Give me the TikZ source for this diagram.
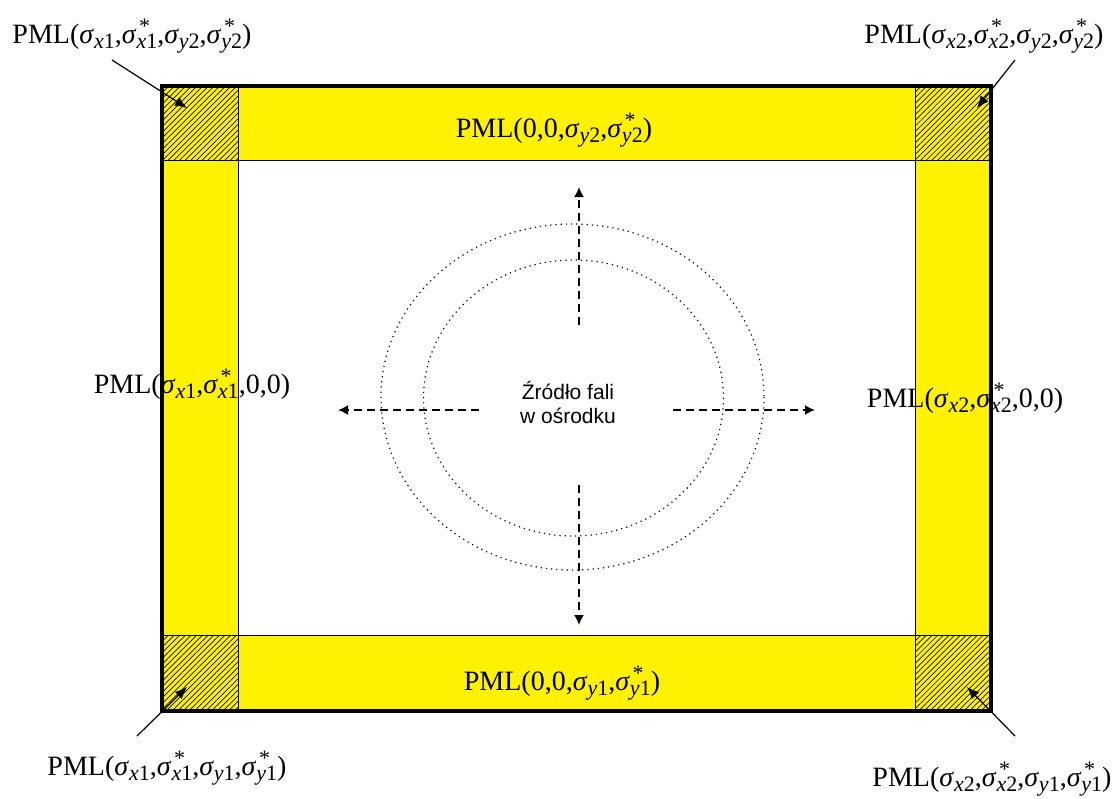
\documentclass[tikz,border=0pt]{standalone}
\usepackage{fontspec}
\setmainfont{Liberation Serif}
\setsansfont{Liberation Sans}
\usetikzlibrary{arrows.meta,patterns.meta}

\newcommand{\subfont}{\fontsize{11}{12}\selectfont}
\newcommand{\sg}[2]{\textit{σ}\raisebox{-0.45ex}{\subfont\textit{#1}#2}}
\newcommand{\sgs}[2]{\textit{σ}\raisebox{-0.45ex}{\subfont\ooalign{\textit{#1}#2\cr\hspace{0.12em}\raisebox{1.5ex}{*}\cr}}}

\begin{document}
\begin{tikzpicture}[x=0.5pt, y=-0.5pt,
  pml/.style={fill=yellow},
  corner/.style={fill=yellow, postaction={pattern={Lines[angle=45,distance=2pt,line width=0.35pt]}}},
  lbl/.style={font=\fontsize{14}{16}\selectfont, inner sep=0pt, anchor=base},
  src/.style={font=\sffamily\fontsize{10.5}{12}\selectfont, align=center, inner sep=0pt},
  arr/.style={-{Latex[length=6pt,width=5pt]}, line width=0.6pt},
  dasharr/.style={-{Latex[length=5pt,width=5pt]}, line width=0.9pt, dash pattern=on 4pt off 2.5pt},
  wave/.style={line width=0.6pt, dash pattern=on 0.6pt off 2pt}
]
\useasboundingbox (0,0) rectangle (1118,798);

% absorbing layers
\fill[pml] (238,86) rectangle (915,160);
\fill[pml] (238,635) rectangle (915,711);
\fill[pml] (162,160) rectangle (238,635);
\fill[pml] (915,160) rectangle (991,635);
\path[corner] (162,86) rectangle (238,160);
\path[corner] (915,86) rectangle (991,160);
\path[corner] (162,635) rectangle (238,711);
\path[corner] (915,635) rectangle (991,711);
\draw[line width=0.5pt] (238,86) -- (238,711) (915,86) -- (915,711)
  (162,160) -- (991,160) (162,635) -- (991,635);
\draw[line width=2pt] (162,86) rectangle (991,711);

% wave fronts
\draw[wave] (572.5,397) ellipse [x radius=191.5, y radius=173];
\draw[wave] (573.5,398) ellipse [x radius=150, y radius=138];

\node[src] (source) at (568,402) {Źródło fali\\w ośrodku};
\coordinate (upA) at (579,325);   \coordinate (upB) at (579,187);
\coordinate (dnA) at (579,485);   \coordinate (dnB) at (579,625);
\coordinate (lfA) at (479,410);   \coordinate (lfB) at (338,410);
\coordinate (rtA) at (673,410);   \coordinate (rtB) at (815,410);
\draw[dasharr] (upA) -- (upB);
\draw[dasharr] (dnA) -- (dnB);
\draw[dasharr] (lfA) -- (lfB);
\draw[dasharr] (rtA) -- (rtB);

% labels
\node[lbl] (top) at (554,137) {PML(0,0,\sg{y}{2},\sgs{y}{2})};
\node[lbl] (bottom) at (562,690) {PML(0,0,\sg{y}{1},\sgs{y}{1})};
\node[lbl] (left) at (192,393) {PML(\sg{x}{1},\sgs{x}{1},0,0)};
\node[lbl] (right) at (965,407) {PML(\sg{x}{2},\sgs{x}{2},0,0)};
\node[lbl] (tl) at (132,43) {PML(\sg{x}{1},\sgs{x}{1},\sg{y}{2},\sgs{y}{2})};
\node[lbl] (tr) at (984,43) {PML(\sg{x}{2},\sgs{x}{2},\sg{y}{2},\sgs{y}{2})};
\node[lbl] (bl) at (167,775) {PML(\sg{x}{1},\sgs{x}{1},\sg{y}{1},\sgs{y}{1})};
\node[lbl] (br) at (992,786) {PML(\sg{x}{2},\sgs{x}{2},\sg{y}{1},\sgs{y}{1})};

\coordinate (tlA) at (112,60);   \coordinate (tlB) at (187,108);
\coordinate (trA) at (1015,60);  \coordinate (trB) at (977,108);
\coordinate (blA) at (137,736);  \coordinate (blB) at (187,687);
\coordinate (brA) at (1015,736); \coordinate (brB) at (967,687);
\draw[arr] (tlA) -- (tlB);
\draw[arr] (trA) -- (trB);
\draw[arr] (blA) -- (blB);
\draw[arr] (brA) -- (brB);

\end{tikzpicture}
\end{document}
